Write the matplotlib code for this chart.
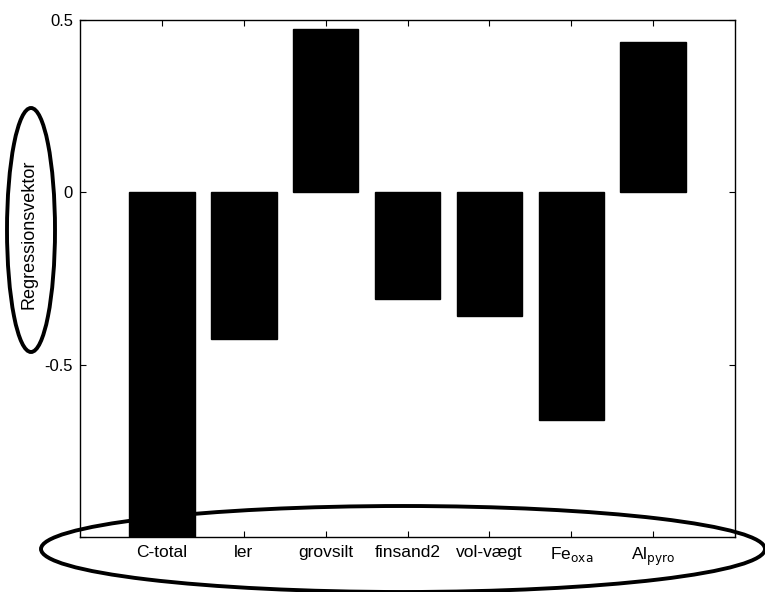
import matplotlib
matplotlib.use("Agg")
from matplotlib import pyplot as plt
from matplotlib.patches import Ellipse

labels = ["C-total", "ler", "grovsilt", "finsand2", "vol-vægt",
          "Fe$_{\\mathrm{oxa}}$", "Al$_{\\mathrm{pyro}}$"]
values = [-1.0, -0.425, 0.475, -0.31, -0.36, -0.66, 0.435]
yticks = [-1, -0.5, 0, 0.5]
yticklabels = ["", "-0.5", "0", "0.5"]

plt.rcParams["font.family"] = ["Liberation Sans", "DejaVu Sans"]

fig = plt.figure(figsize=(7.65, 5.92), dpi=100)
ax = fig.add_axes([0.1046, 0.0929, 0.8562, 0.8733])

x = list(range(1, len(values) + 1))
ax.bar(x, values, width=0.8, color="black", edgecolor="black")
ax.set_xlim(0, 8)
ax.set_ylim(-1, 0.5)
ax.set_xticks(x)
ax.set_xticklabels(labels, fontsize=12.5)
ax.set_yticks(yticks)
ax.set_yticklabels(yticklabels, fontsize=12)
ax.tick_params(direction="in", length=4, width=0.8, top=True, right=True)
ax.tick_params(axis="x", pad=6)
ax.tick_params(axis="y", pad=5)
for s in ax.spines.values():
    s.set_linewidth(1.0)

fig.text(29 / 765, 1 - 234 / 592, "Regressionsvektor", rotation=90,
         ha="center", va="center", fontsize=13)

# hand-drawn ellipses around the labels, given in figure pixels
W, H = 765, 592
e1 = Ellipse((31, H - 230), 48, 244, fill=False, lw=2.8, ec="black",
             transform=None)
e2 = Ellipse((403, H - 549), 724, 86, fill=False, lw=2.8, ec="black",
             transform=None)
fig.patches.extend([e1, e2])

fig.savefig("out.png", dpi=100)
